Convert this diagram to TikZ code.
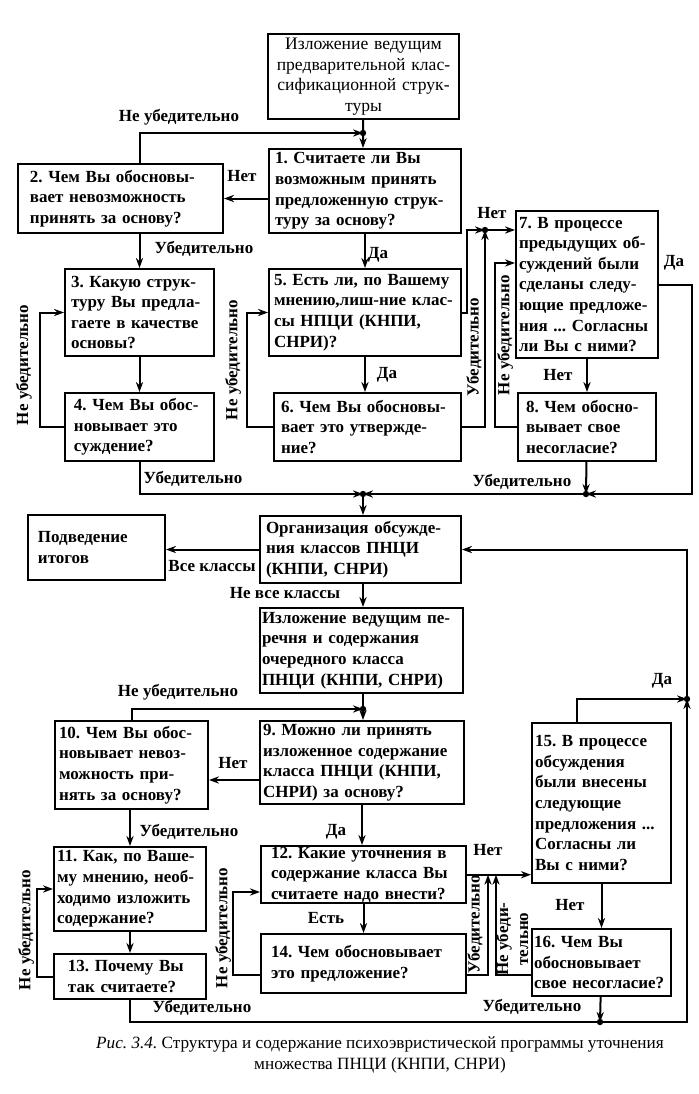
\documentclass[tikz,border=0pt]{standalone}
\usepackage{fontspec}
\setmainfont{Liberation Serif}
\usetikzlibrary{arrows.meta}
\frenchspacing

\begin{document}
\begin{tikzpicture}[x=0.5pt, y=-0.5pt, line width=1pt,
    >={Stealth[length=5pt,width=3.6pt]},
    box/.style={draw, anchor=north west, inner ysep=0.5pt, align=left,
      font=\fontsize{8.5}{10.3}\selectfont\bfseries},
    lbl/.style={inner sep=0pt, font=\fontsize{8.5}{10}\selectfont\bfseries}]
              \useasboundingbox (0,0) rectangle (699,1094);

              % Upper boxes
              \node[box, align=center, font=\fontsize{8.8}{10.3}\selectfont, minimum width=95.5pt, minimum height=42.5pt, inner xsep=2pt, text width=91.5pt] (top) at (267,33) {Изложение ведущим\\предварительной клас-\\сификационной струк-\\туры};
              \node[box, minimum width=96pt, minimum height=42pt, inner xsep=3pt, text width=90pt] (n1) at (268,148) {1. Считаете ли Вы\\возможным принять\\предложенную струк-\\туру за основу?};
              \node[box, minimum width=102.5pt, minimum height=34.5pt, inner xsep=6pt, text width=90.5pt] (n2) at (17,163) {2. Чем Вы обосновы-\\вает невозможность\\принять за основу?};
              \node[box, minimum width=74.5pt, minimum height=43.5pt, inner xsep=3pt, text width=68.5pt] (n3) at (64,268) {3. Какую струк-\\туру Вы предла-\\гаете в качестве\\основы?};
              \node[box, minimum width=74.5pt, minimum height=34pt, inner xsep=4.5pt, text width=65.5pt] (n4) at (64,392) {4. Чем Вы обос-\\новывает это\\суждение?};
              \node[box, minimum width=96pt, minimum height=43.5pt, inner xsep=2.5pt, text width=91pt] (n5) at (268,268) {5. Есть ли, по Вашему\\мнению,лиш-ние клас-\\сы НПЦИ (КНПИ,\\СНРИ)?};
              \node[box, minimum width=93.5pt, minimum height=34pt, inner xsep=3.5pt, text width=86.5pt] (n6) at (273,392) {6. Чем Вы обосновы-\\вает это утвержде-\\ние?};
              \node[box, minimum width=71pt, minimum height=73.5pt, inner xsep=1.5pt, text width=68pt] (n7) at (515,210) {7. В процессе\\предыдущих об-\\суждений были\\сделаны следу-\\ющие предложе-\\ния ... Согласны\\ли Вы с ними?};
              \node[box, minimum width=69pt, minimum height=34pt, inner xsep=4pt, text width=61pt] (n8) at (517,392) {8. Чем обосно-\\вывает свое\\несогласие?};

              % Lower boxes
              \node[box, minimum width=68.5pt, minimum height=32.5pt, inner xsep=5pt, text width=58.5pt] (sum) at (27,514) {Подведение\\итогов};
              \node[box, minimum width=100.5pt, minimum height=33.5pt, inner xsep=3pt, text width=94.5pt] (org) at (259,515) {Организация обсужде-\\ния классов ПНЦИ\\(КНПИ, СНРИ)};
              \node[box, minimum width=101.5pt, minimum height=42.5pt, inner xsep=1pt, text width=99.5pt] (pres) at (259,607) {Изложение ведущим пе-\\речня и содержания\\очередного класса\\ПНЦИ (КНПИ, СНРИ)};
              \node[box, minimum width=102pt, minimum height=41.5pt, inner xsep=1.5pt, text width=99pt] (n9) at (259,720) {9. Можно ли принять\\изложенное содержание\\класса ПНЦИ (КНПИ,\\СНРИ) за основу?};
              \node[box, minimum width=76.5pt, minimum height=44pt, inner xsep=2pt, text width=72.5pt] (n10) at (54,720) {10. Чем Вы обос-\\новывает невоз-\\можность при-\\нять за основу?};
              \node[box, minimum width=76pt, minimum height=42pt, inner xsep=1.5pt, text width=73pt] (n11) at (53,846) {11. Как, по Ваше-\\му мнению, необ-\\ходимо изложить\\содержание?};
              \node[box, minimum width=102.5pt, minimum height=28.5pt, inner xsep=5pt, text width=92.5pt] (n12) at (260,845) {12. Какие уточнения в\\содержание класса Вы\\считаете надо внести?};
              \node[box, minimum width=76pt, minimum height=22.5pt, inner xsep=7pt, text width=62pt] (n13) at (53,953) {13. Почему Вы\\так считаете?};
              \node[box, minimum width=102.5pt, minimum height=29.5pt, inner xsep=5pt, text width=92.5pt] (n14) at (260,933) {14. Чем обосновывает\\это предложение?};
              \node[box, minimum width=69.5pt, minimum height=80pt, inner xsep=1.5pt, text width=66.5pt] (n15) at (531,722) {15. В процессе\\обсуждения\\были внесены\\следующие\\предложения ...\\Согласны ли\\Вы с ними?};
              \node[box, minimum width=69.5pt, minimum height=33.5pt, inner xsep=1pt, text width=67.5pt] (n16) at (531,928) {16. Чем Вы\\обосновывает\\свое несогласие?};

              % Junctions and levels
              \coordinate (j1) at (363,133);
              \coordinate (j2) at (363,494);
              \coordinate (j3) at (485,230);
              \coordinate (j4) at (586,494);
              \coordinate (j5) at (363,709);
              \coordinate (j6) at (600,1022);
              \coordinate (j7) at (687,699);
              \coordinate (c7) at (0,263);
              \coordinate (c9) at (0,780);
              \coordinate (c12) at (0,892);
              \coordinate (c14) at (0,975);
              \coordinate (u1) at (488,0);
              \coordinate (u2) at (496,0);

              % Upper connectors
              \draw[->] (top) -- (j1 |- n1.north);
              \draw[->] (n3 |- n2.north) |- (j1);
              \draw[->] (n1.west |- n2) -- (n2);
              \draw[->] (n3 |- n2.south) -- (n3);
              \draw[->] (n3) -- (n4);
              \draw[->] (n4.west) -- ++(-24,0) |- (n3.west);
              \draw[->] (n4) |- (j2);
              \draw[->] (n1) -- (n5);
              \draw[->] (n5) -- (n5 |- n6.north);
              \draw[->] (n6.west) -- ++(-26,0) |- (n5.west);
              \draw[->] (n5.east) -- ++(5,0) |- (j3);
              \draw[->] (j3) -- (j3 -| n7.west);
              \draw[->] (n6.east) -| (j3);
              \draw[->] (n7) -- (n8);
              \draw[->] (n8.west) -- ++(-22,0) |- (n7.west |- c7);
              \draw[->] (n7.east) -- ++(33,0) |- (j4);
              \draw[->] (n8) -- (j4);
              \draw[->] (j4) -- (j2);
              \draw[->] (j2) -- (j2 |- org.north);

              % Lower connectors
              \draw[->] (org.west) -- (org.west -| sum.east);
              \draw[->] (j2 |- org.south) -- (j2 |- pres.north);
              \draw (j2 |- pres.south) -- (j5);
              \draw[->] (j5) -- (j5 |- n9.north);
              \draw[->] (n10) |- (j5);
              \draw[->] (n9.west |- c9) -- (n10.east |- c9);
              \draw[->] (n11 |- n10.south) -- (n11);
              \draw[->] (n11) -- (n13);
              \draw[->] (n13.west) -- ++(-16,0) |- (n11.west);
              \draw[->] (n13) |- (j6) -| (j7);
              \draw[->] (j7) |- (org.east);
              \draw[->] (n9) -- (n9 |- n12.north);
              \draw[->] (n12) -- (n14);
              \draw[->] (n14.west |- c14) -- ++(-27,0) |- (n12.west |- c12);
              \draw[->] (n12.east) -- (n12.east -| n15.west);
              \draw[->] (n14.east |- c14) -| (u1 |- n12.east);
              \draw[->] (n16.west |- c14) -| (u2 |- n12.east);
              \draw[->] (n15) -- (n16);
              \draw[->] (n16) -- (j6);
              \draw[->] (n15.north west) ++(46,0) |- (j7);

              \foreach \j in {j1,j2,j3,j4,j5,j6,j7}
                \fill (\j) circle (1.6pt);

              % Labels
              \node[lbl] (l1no) at (179,117) {Не убедительно};
              \node[lbl] (l1net) at (242,176) {Нет};
              \node[lbl] (l2yes) at (204,249) {Убедительно};
              \node[lbl] (l1da) at (378,255) {Да};
              \node[lbl, rotate=90] (l4no) at (24,365) {Не убедительно};
              \node[lbl, rotate=90] (l6no) at (233,360) {Не убедительно};
              \node[lbl] (l5da) at (387,375) {Да};
              \node[lbl] (l5net) at (492,213) {Нет};
              \node[lbl, rotate=90] (l6yes) at (474,347) {Убедительно};
              \node[lbl, rotate=90] (l8no) at (505,335) {Не убедительно};
              \node[lbl] (l7da) at (674,263) {Да};
              \node[lbl] (l7net) at (558,375) {Нет};
              \node[lbl] (l4yes) at (193,479) {Убедительно};
              \node[lbl] (l8yes) at (522,482) {Убедительно};

              \node[lbl] (lall) at (212,566) {Все классы};
              \node[lbl] (lnotall) at (285,593) {Не все классы};
              \node[lbl] (l10no) at (178,692) {Не убедительно};
              \node[lbl] (l9net) at (233,763) {Нет};
              \node[lbl] (l10yes) at (189,832) {Убедительно};
              \node[lbl] (l9da) at (336,832) {Да};
              \node[lbl] (l15da) at (662,681) {Да};
              \node[lbl, rotate=90] (l13no) at (26,930) {Не убедительно};
              \node[lbl, rotate=90] (l14no) at (223,928) {Не убедительно};
              \node[lbl] (l12est) at (326,918) {Есть};
              \node[lbl] (l12net) at (488,850) {Нет};
              \node[lbl, rotate=90] (l14yes) at (475,924) {Убедительно};
              \node[lbl, rotate=90, align=center] (l16no) at (512,939) {Не убеди-\\тельно};
              \node[lbl] (l15net) at (570,905) {Нет};
              \node[lbl] (l13yes) at (202,1008) {Убедительно};
              \node[lbl] (l16yes) at (532,1007) {Убедительно};

              % Caption
              \node[align=center, inner sep=0pt, font=\fontsize{8.6}{10.5}\selectfont] (cap) at (380,1055) {\textit{Рис. 3.4.} Структура и содержание психоэвристической программы уточнения\\множества ПНЦИ (КНПИ, СНРИ)};
          \end{tikzpicture}
\end{document}
